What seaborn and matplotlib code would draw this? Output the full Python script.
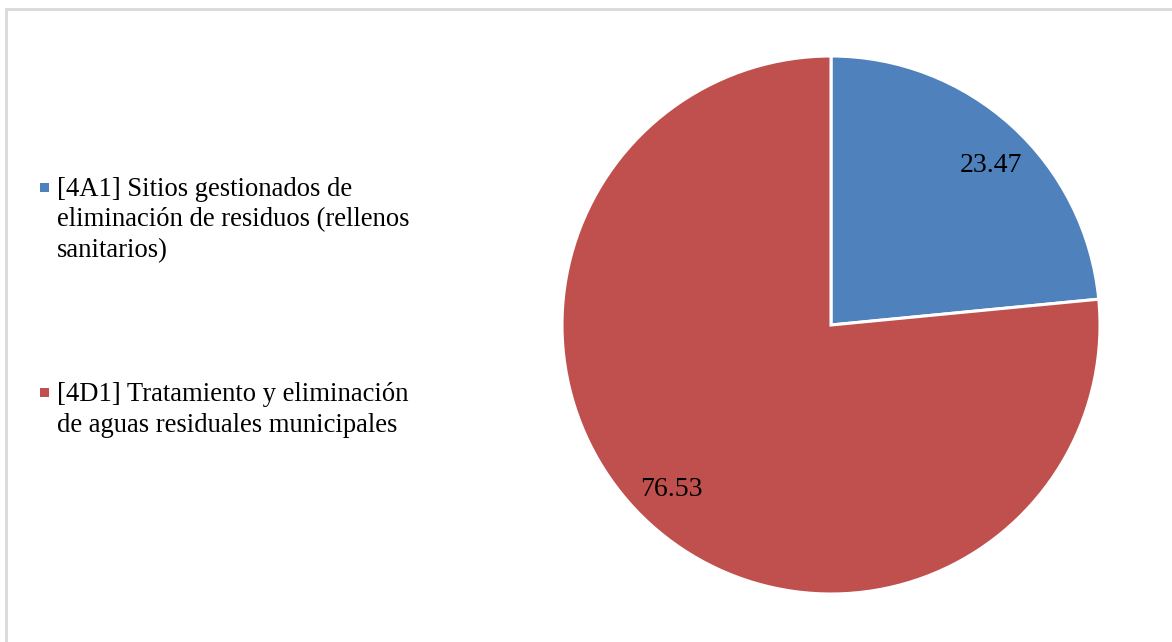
import numpy as np
import matplotlib
matplotlib.use("Agg")
import matplotlib.pyplot as plt
from matplotlib.patches import Rectangle
import seaborn as sns

sns.set_theme(style="white")
plt.rcParams["font.family"] = ["Liberation Serif", "DejaVu Serif"]

categories = [
    "[4A1] Sitios gestionados de\neliminación de residuos (rellenos\nsanitarios)",
    "[4D1] Tratamiento y eliminación\nde aguas residuales municipales",
]
values = [23.47, 76.53]
colors = ["#4F81BD", "#C0504D"]

W, H = 1172, 642
fig = plt.figure(figsize=(W / 100, H / 100), dpi=100)
fig.patch.set_facecolor("white")

# outer frame of the chart area
fig.patches.append(Rectangle((6 / W, -0.05), 1.1, (H - 9) / H + 0.05,
                             transform=fig.transFigure, fill=False,
                             edgecolor="#d9d9d9", linewidth=2))

# pie axes: centre (831, 325) px, radius 269 px
cx, cy, r = 831, 325, 269
ax = fig.add_axes([(cx - r) / W, (H - cy - r) / H, 2 * r / W, 2 * r / H])
wedges, _ = ax.pie(
    values, colors=colors, startangle=90, counterclock=False, radius=1,
    wedgeprops=dict(edgecolor="white", linewidth=2.2),
)

# value labels inside each wedge
for w, v in zip(wedges, values):
    mid = np.deg2rad((w.theta1 + w.theta2) / 2 - 2.4)
    x, y = 0.845 * np.cos(mid), 0.845 * np.sin(mid)
    ax.text(x, y - 0.034, f"{v:.2f}", fontsize=20, color="black",
            ha="center", va="baseline")

ax.set_xlim(-1, 1)
ax.set_ylim(-1, 1)
ax.set_aspect("equal")
ax.axis("off")

# legend on the left: square marker aligned with the first line of each entry
line_gap = 30.5
first_baselines = [196, 401]
for name, col, base in zip(categories, colors, first_baselines):
    fig.patches.append(Rectangle((40 / W, 1 - (base - 4.5) / H), 9 / W, 9 / H,
                                 transform=fig.transFigure, facecolor=col,
                                 edgecolor="none"))
    for i, line in enumerate(name.split("\n")):
        fig.text(57 / W, 1 - (base + i * line_gap) / H, line,
                 fontsize=19.2, color="black", va="baseline", ha="left")

fig.savefig("out.png", dpi=100, facecolor="white")
